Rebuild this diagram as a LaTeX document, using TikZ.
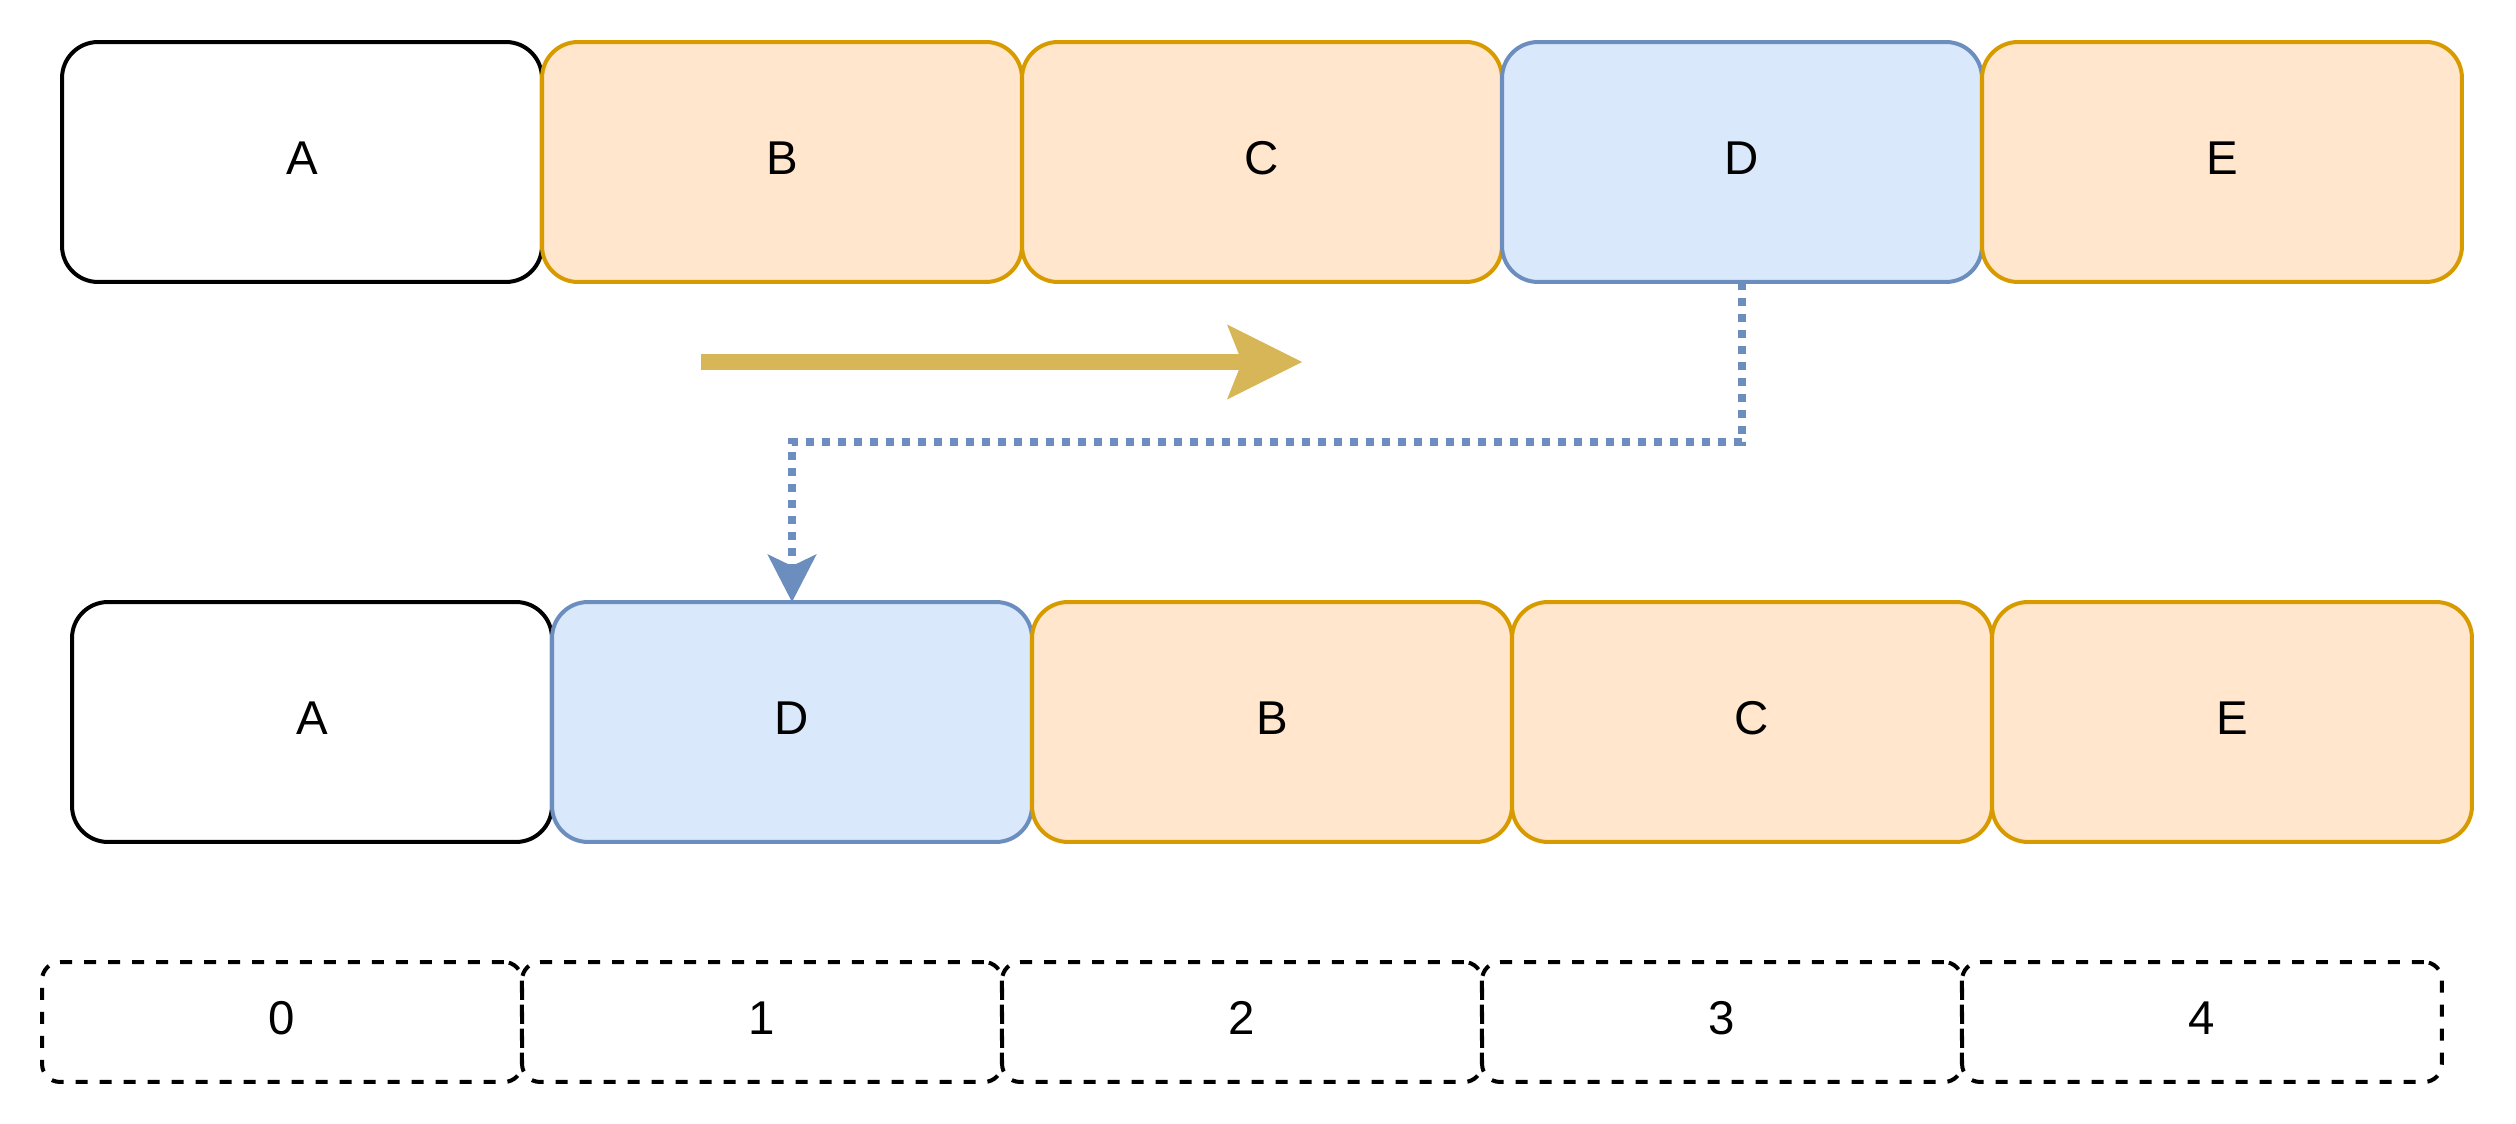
\documentclass[tikz,border=0pt]{standalone}
\usepackage{fontspec}
\setmainfont{Liberation Sans}
\usetikzlibrary{arrows.meta}
\definecolor{orfill}{HTML}{FFE6CC}
\definecolor{ordraw}{HTML}{D79B00}
\definecolor{blfill}{HTML}{DAE8FC}
\definecolor{bldraw}{HTML}{6C8EBF}
\definecolor{goldarrow}{HTML}{D6B656}
\begin{document}
\begin{tikzpicture}[x=0.02cm,y=-0.02cm,
  cell/.style={rectangle, line width=0.08cm, rounded corners=0.72cm,
    minimum width=9.6cm, minimum height=4.8cm, inner sep=0pt, outer sep=0pt,
    text depth=0.16cm, font=\fontsize{27}{32}\selectfont},
  whbox/.style={cell, draw=black, fill=white},
  orbox/.style={cell, draw=ordraw, fill=orfill},
  blbox/.style={cell, draw=bldraw, fill=blfill},
  idxbox/.style={rectangle, draw=black, line width=0.08cm,
    dash pattern=on 0.24cm off 0.24cm, rounded corners=0.36cm,
    minimum width=9.6cm, minimum height=2.4cm, inner sep=0pt, outer sep=0pt,
    text depth=0.16cm, font=\fontsize{27}{32}\selectfont},
  moveline/.style={draw=bldraw, line width=0.16cm, dash pattern=on 0.16cm off 0.16cm,
    -{Stealth[length=0.96cm, width=0.99cm, inset=0.24cm, line width=0pt]}},
  dirarrow/.style={draw=goldarrow, line width=0.32cm,
    -{Stealth[length=1.5cm, width=1.5cm, inset=0.3cm, line width=0pt]}}
]
\path[use as bounding box, fill=white] (0,0) rectangle (2516,1124);

% top row
\node[whbox] (t1) at (302,162) {A};
\node[orbox] (t2) at (782,162) {B};
\node[orbox] (t3) at (1262,162) {C};
\node[blbox] (t4) at (1742,162) {D};
\node[orbox] (t5) at (2222,162) {E};

% bottom row
\node[whbox] (b1) at (312,722) {A};
\node[blbox] (b2) at (792,722) {D};
\node[orbox] (b3) at (1272,722) {B};
\node[orbox] (b4) at (1752,722) {C};
\node[orbox] (b5) at (2232,722) {E};

% index row
\node[idxbox] (i0) at (282,1022) {0};
\node[idxbox] (i1) at (762,1022) {1};
\node[idxbox] (i2) at (1242,1022) {2};
\node[idxbox] (i3) at (1722,1022) {3};
\node[idxbox] (i4) at (2202,1022) {4};

% direction arrow
\coordinate (g1) at (701,362);
\coordinate (g2) at (1302,362);
\draw[dirarrow] (g1) -- (g2);

% move connector
\draw[moveline] (t4.south) -- ++(0,160) -| (b2.north);
\end{tikzpicture}
\end{document}
